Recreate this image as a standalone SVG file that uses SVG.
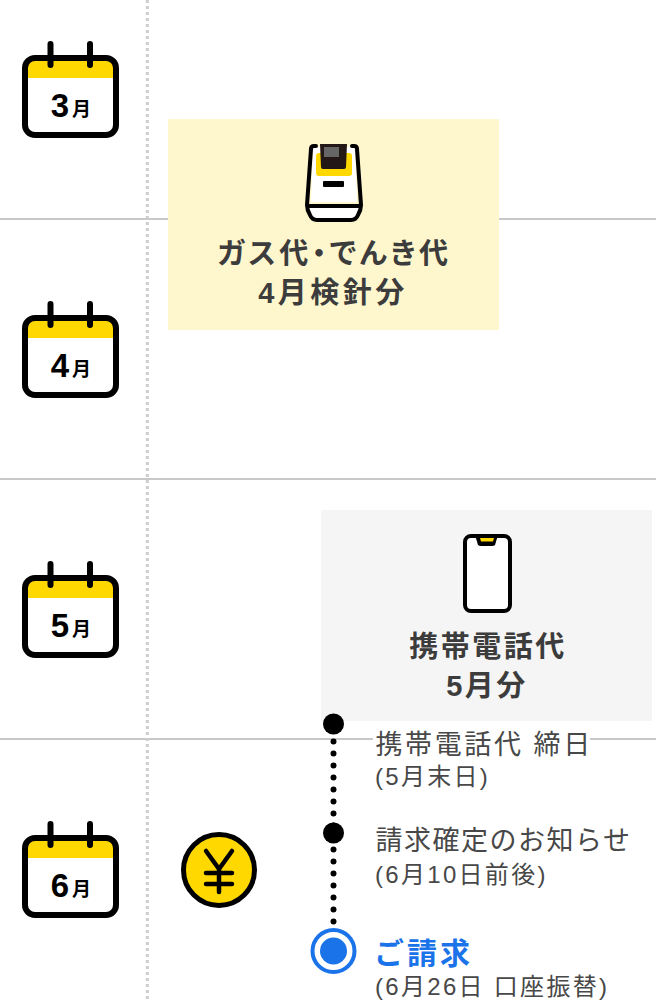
<svg xmlns="http://www.w3.org/2000/svg" width="656" height="1000" viewBox="0 0 656 1000">
<style>
text{font-family:"Liberation Sans","Noto Sans CJK JP",sans-serif}
.rule{stroke:#c8c8c8;stroke-width:2;fill:none}
.dot{stroke:#cdcdcd;stroke-width:3;stroke-dasharray:3 3;fill:none}
.title{font-size:29px;font-weight:700;fill:#3c3c3c;text-anchor:middle;letter-spacing:2.500px}
.item{font-size:27px;fill:#484848;letter-spacing:2.600px}
.sub{font-size:24px;fill:#484848;letter-spacing:2.300px}
.mb{font-size:33px;font-weight:700;fill:#000;text-anchor:middle}
.ms{font-size:19px;font-weight:700;fill:#000;text-anchor:middle}
.k{stroke:#000;stroke-width:6;fill:none;stroke-linecap:round;stroke-linejoin:round}
</style>
<defs>
<g id="cal">
<rect x="25" y="58" width="91" height="77" rx="10" fill="#fff"/>
<path d="M25 78V68a10 10 0 0 1 10-10h71a10 10 0 0 1 10 10v10z" fill="#ffd800"/>
<rect x="25" y="58" width="91" height="77" rx="10" class="k"/>
<path d="M50.500 44V65M90 44V65" class="k"/>
</g>
</defs>
<g id="grid">
<path class="rule" d="M0 219H168M499 219H656M0 479H656M0 739H373M590 739H656"/>
<path class="dot" d="M147.300 0V1000"/>
</g>
<g id="month-3"><use href="#cal"/><text class="mb" x="60" y="117">3</text><text class="ms" x="81.500" y="116">月</text></g>
<g id="month-4"><use href="#cal" y="260"/><text class="mb" x="60" y="377">4</text><text class="ms" x="81.500" y="376">月</text></g>
<g id="month-5"><use href="#cal" y="520"/><text class="mb" x="60" y="637">5</text><text class="ms" x="81.500" y="636">月</text></g>
<g id="month-6"><use href="#cal" y="780"/><text class="mb" x="60" y="897">6</text><text class="ms" x="81.500" y="896">月</text></g>
<g id="gas-card">
<rect x="168" y="119" width="331" height="211" fill="#fef6cd"/>
<path d="M311 202L313 147H355L357 202z" fill="#fff"/>
<path d="M309 207H359L356 217Q355 220 351 220H317Q313 220 312 217z" fill="#fff"/>
<rect x="316" y="153" width="36" height="23" rx="3" fill="#ffd800"/>
<path d="M320 144H347L346 167Q346 169 344 169H323Q321 169 321 167z" fill="#231815"/>
<rect x="324" y="147" width="15" height="10" fill="#666"/>
<rect x="323" y="181" width="21" height="6" rx="1" fill="#000"/>
<path d="M316 146H314Q311 146 311 149L307 205Q307 210 310 215Q312 220 317 220H351Q356 220 358 215Q361 210 361 205L357 149Q357 146 354 146H352M307 206H361" fill="none" stroke="#000" stroke-width="4" stroke-linecap="round" stroke-linejoin="round"/>
<text class="title" x="334.500" y="264" style="font-feature-settings:'palt';letter-spacing:3.500px">ガス代・でんき代</text>
<text class="title" x="333" y="303" style="letter-spacing:3.500px">4月検針分</text>
</g>
<g id="mobile-card">
<rect x="321" y="510" width="331" height="211" fill="#f5f5f5"/>
<rect x="465" y="536" width="45" height="75" rx="6" fill="#fff" stroke="#000" stroke-width="4"/>
<path d="M475 535H498L495 545Q494 546 492 546H481Q479 546 478 545z" fill="#000"/>
<path d="M480 538H494L493 541.500H481z" fill="#ffd800"/>
<text class="title" x="488" y="657">携帯電話代</text>
<text class="title" x="487" y="696">5月分</text>
</g>
<g id="yen">
<circle cx="219" cy="870" r="35.500" fill="#ffd800" stroke="#000" stroke-width="5"/>
<path d="M206 851L219 869L232 851M206 873H232M206 884H232M219 869V892" fill="none" stroke="#000" stroke-width="4.500" stroke-linecap="round" stroke-linejoin="round"/>
</g>
<g id="connectors">
<path d="M333.500 741.500V924" fill="none" stroke="#000" stroke-width="6" stroke-linecap="round" stroke-dasharray="0 12"/>
</g>
<g id="step-close">
<circle cx="333.500" cy="724" r="10.500" fill="#000"/>
<text class="item" x="375.500" y="754">携帯電話代 締日</text>
<text class="sub" x="375" y="785">(5月末日)</text>
</g>
<g id="step-notice">
<circle cx="333.500" cy="833" r="10.500" fill="#000"/>
<text class="item" x="375.500" y="850" style="letter-spacing:1.500px">請求確定のお知らせ</text>
<text class="sub" x="375" y="883">(6月10日前後)</text>
</g>
<g id="step-bill">
<circle cx="333.500" cy="951" r="21" fill="#fff" stroke="#1a73e8" stroke-width="4"/>
<circle cx="333.500" cy="951" r="13.500" fill="#1a73e8"/>
<text x="374" y="964" font-size="30" font-weight="700" fill="#1a73e8" letter-spacing="3">ご請求</text>
<text class="sub" x="375" y="995">(6月26日 口座振替)</text>
</g>
</svg>
